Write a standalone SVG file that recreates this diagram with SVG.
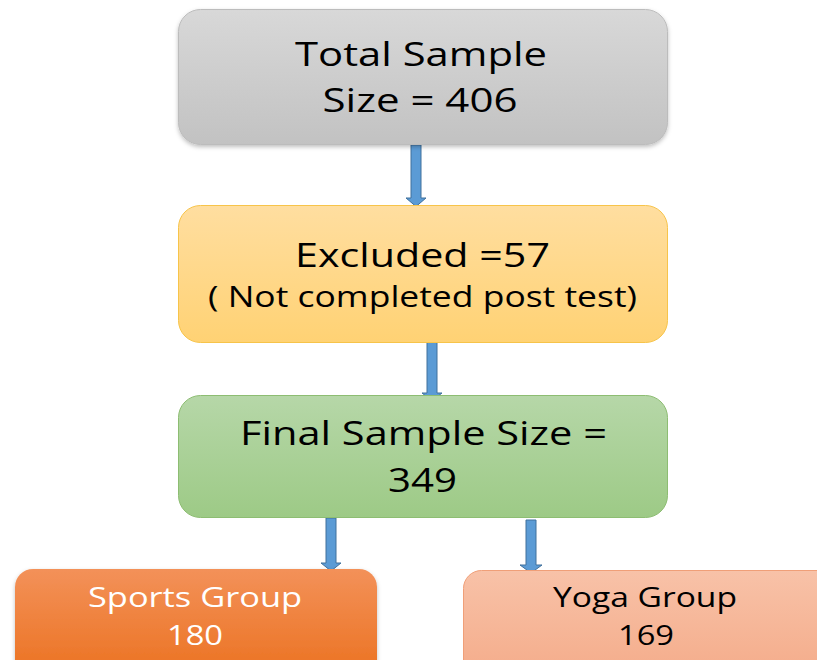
<svg xmlns="http://www.w3.org/2000/svg" width="817" height="660" viewBox="0 0 817 660">
<style>
text{font-family:"Open Sans","Noto Sans",sans-serif;text-anchor:middle;}
.dk{fill:#000;}
.wt{fill:#fff;}
.arrow{fill:#5b9bd5;stroke:#41719c;stroke-width:1;}
</style>
<defs>
<linearGradient id="gGray" x1="0" y1="0" x2="0" y2="1"><stop offset="0" stop-color="#d8d8d8"/><stop offset="1" stop-color="#c2c2c2"/></linearGradient>
<linearGradient id="gYel" x1="0" y1="0" x2="0" y2="1"><stop offset="0" stop-color="#ffdea0"/><stop offset="1" stop-color="#ffd274"/></linearGradient>
<linearGradient id="gGrn" x1="0" y1="0" x2="0" y2="1"><stop offset="0" stop-color="#b6d7a8"/><stop offset="1" stop-color="#9dca86"/></linearGradient>
<linearGradient id="gOr" x1="0" y1="0" x2="0" y2="1"><stop offset="0" stop-color="#f39159"/><stop offset="1" stop-color="#eb711f"/></linearGradient>
<linearGradient id="gSal" x1="0" y1="0" x2="0" y2="1"><stop offset="0" stop-color="#f8c2a8"/><stop offset="1" stop-color="#f4ab89"/></linearGradient>
<filter id="sh" x="-5%" y="-5%" width="110%" height="115%"><feDropShadow dx="0" dy="2" stdDeviation="2" flood-color="#000" flood-opacity="0.25"/></filter>
</defs>

<g id="connectors">
<path class="arrow" d="M411,145 H421 V198 H426 L416,206.5 L406,198 H411 Z"/>
<path class="arrow" d="M427,342 H437 V393 H442 L432,401 L422,393 H427 Z"/>
<path class="arrow" d="M326,518 H336 V563 H341 L331,571 L321,563 H326 Z"/>
<path class="arrow" d="M526,520 H536 V565 H542 L531,573 L520,565 H526 Z"/>
</g>

<g id="total">
<rect x="178.5" y="9.5" width="489" height="135" rx="22" fill="url(#gGray)" stroke="#bcbcbc" filter="url(#sh)"/>
<text class="dk" x="421" y="66" font-size="33.5" textLength="252" lengthAdjust="spacingAndGlyphs">Total Sample</text>
<text class="dk" x="420" y="112" font-size="33.5" textLength="195" lengthAdjust="spacingAndGlyphs">Size = 406</text>
</g>

<g id="excluded">
<rect x="178.5" y="205.5" width="489" height="137" rx="22" fill="url(#gYel)" stroke="#f7c44a"/>
<text class="dk" x="422.5" y="267" font-size="33.5" textLength="255" lengthAdjust="spacingAndGlyphs">Excluded =57</text>
<text class="dk" x="422.5" y="307" font-size="29" textLength="429" lengthAdjust="spacingAndGlyphs">( Not completed post test)</text>
</g>

<g id="final">
<rect x="178.5" y="395.5" width="489" height="122" rx="22" fill="url(#gGrn)" stroke="#8dbd72"/>
<text class="dk" x="423.5" y="445" font-size="32" textLength="367" lengthAdjust="spacingAndGlyphs">Final Sample Size =</text>
<text class="dk" x="422.5" y="492" font-size="32" textLength="69" lengthAdjust="spacingAndGlyphs">349</text>
</g>

<g id="sports">
<rect x="15" y="569" width="362" height="110" rx="18" fill="url(#gOr)" filter="url(#sh)"/>
<text class="wt" x="195" y="607" font-size="28" textLength="214" lengthAdjust="spacingAndGlyphs">Sports Group</text>
<text class="wt" x="195" y="645" font-size="28" textLength="56" lengthAdjust="spacingAndGlyphs">180</text>
</g>

<g id="yoga">
<rect x="463.5" y="570.5" width="380" height="110" rx="18" fill="url(#gSal)" stroke="#f09f78"/>
<text class="dk" x="645" y="607" font-size="28" textLength="184" lengthAdjust="spacingAndGlyphs">Yoga Group</text>
<text class="dk" x="646" y="645" font-size="28" textLength="56" lengthAdjust="spacingAndGlyphs">169</text>
</g>
</svg>
